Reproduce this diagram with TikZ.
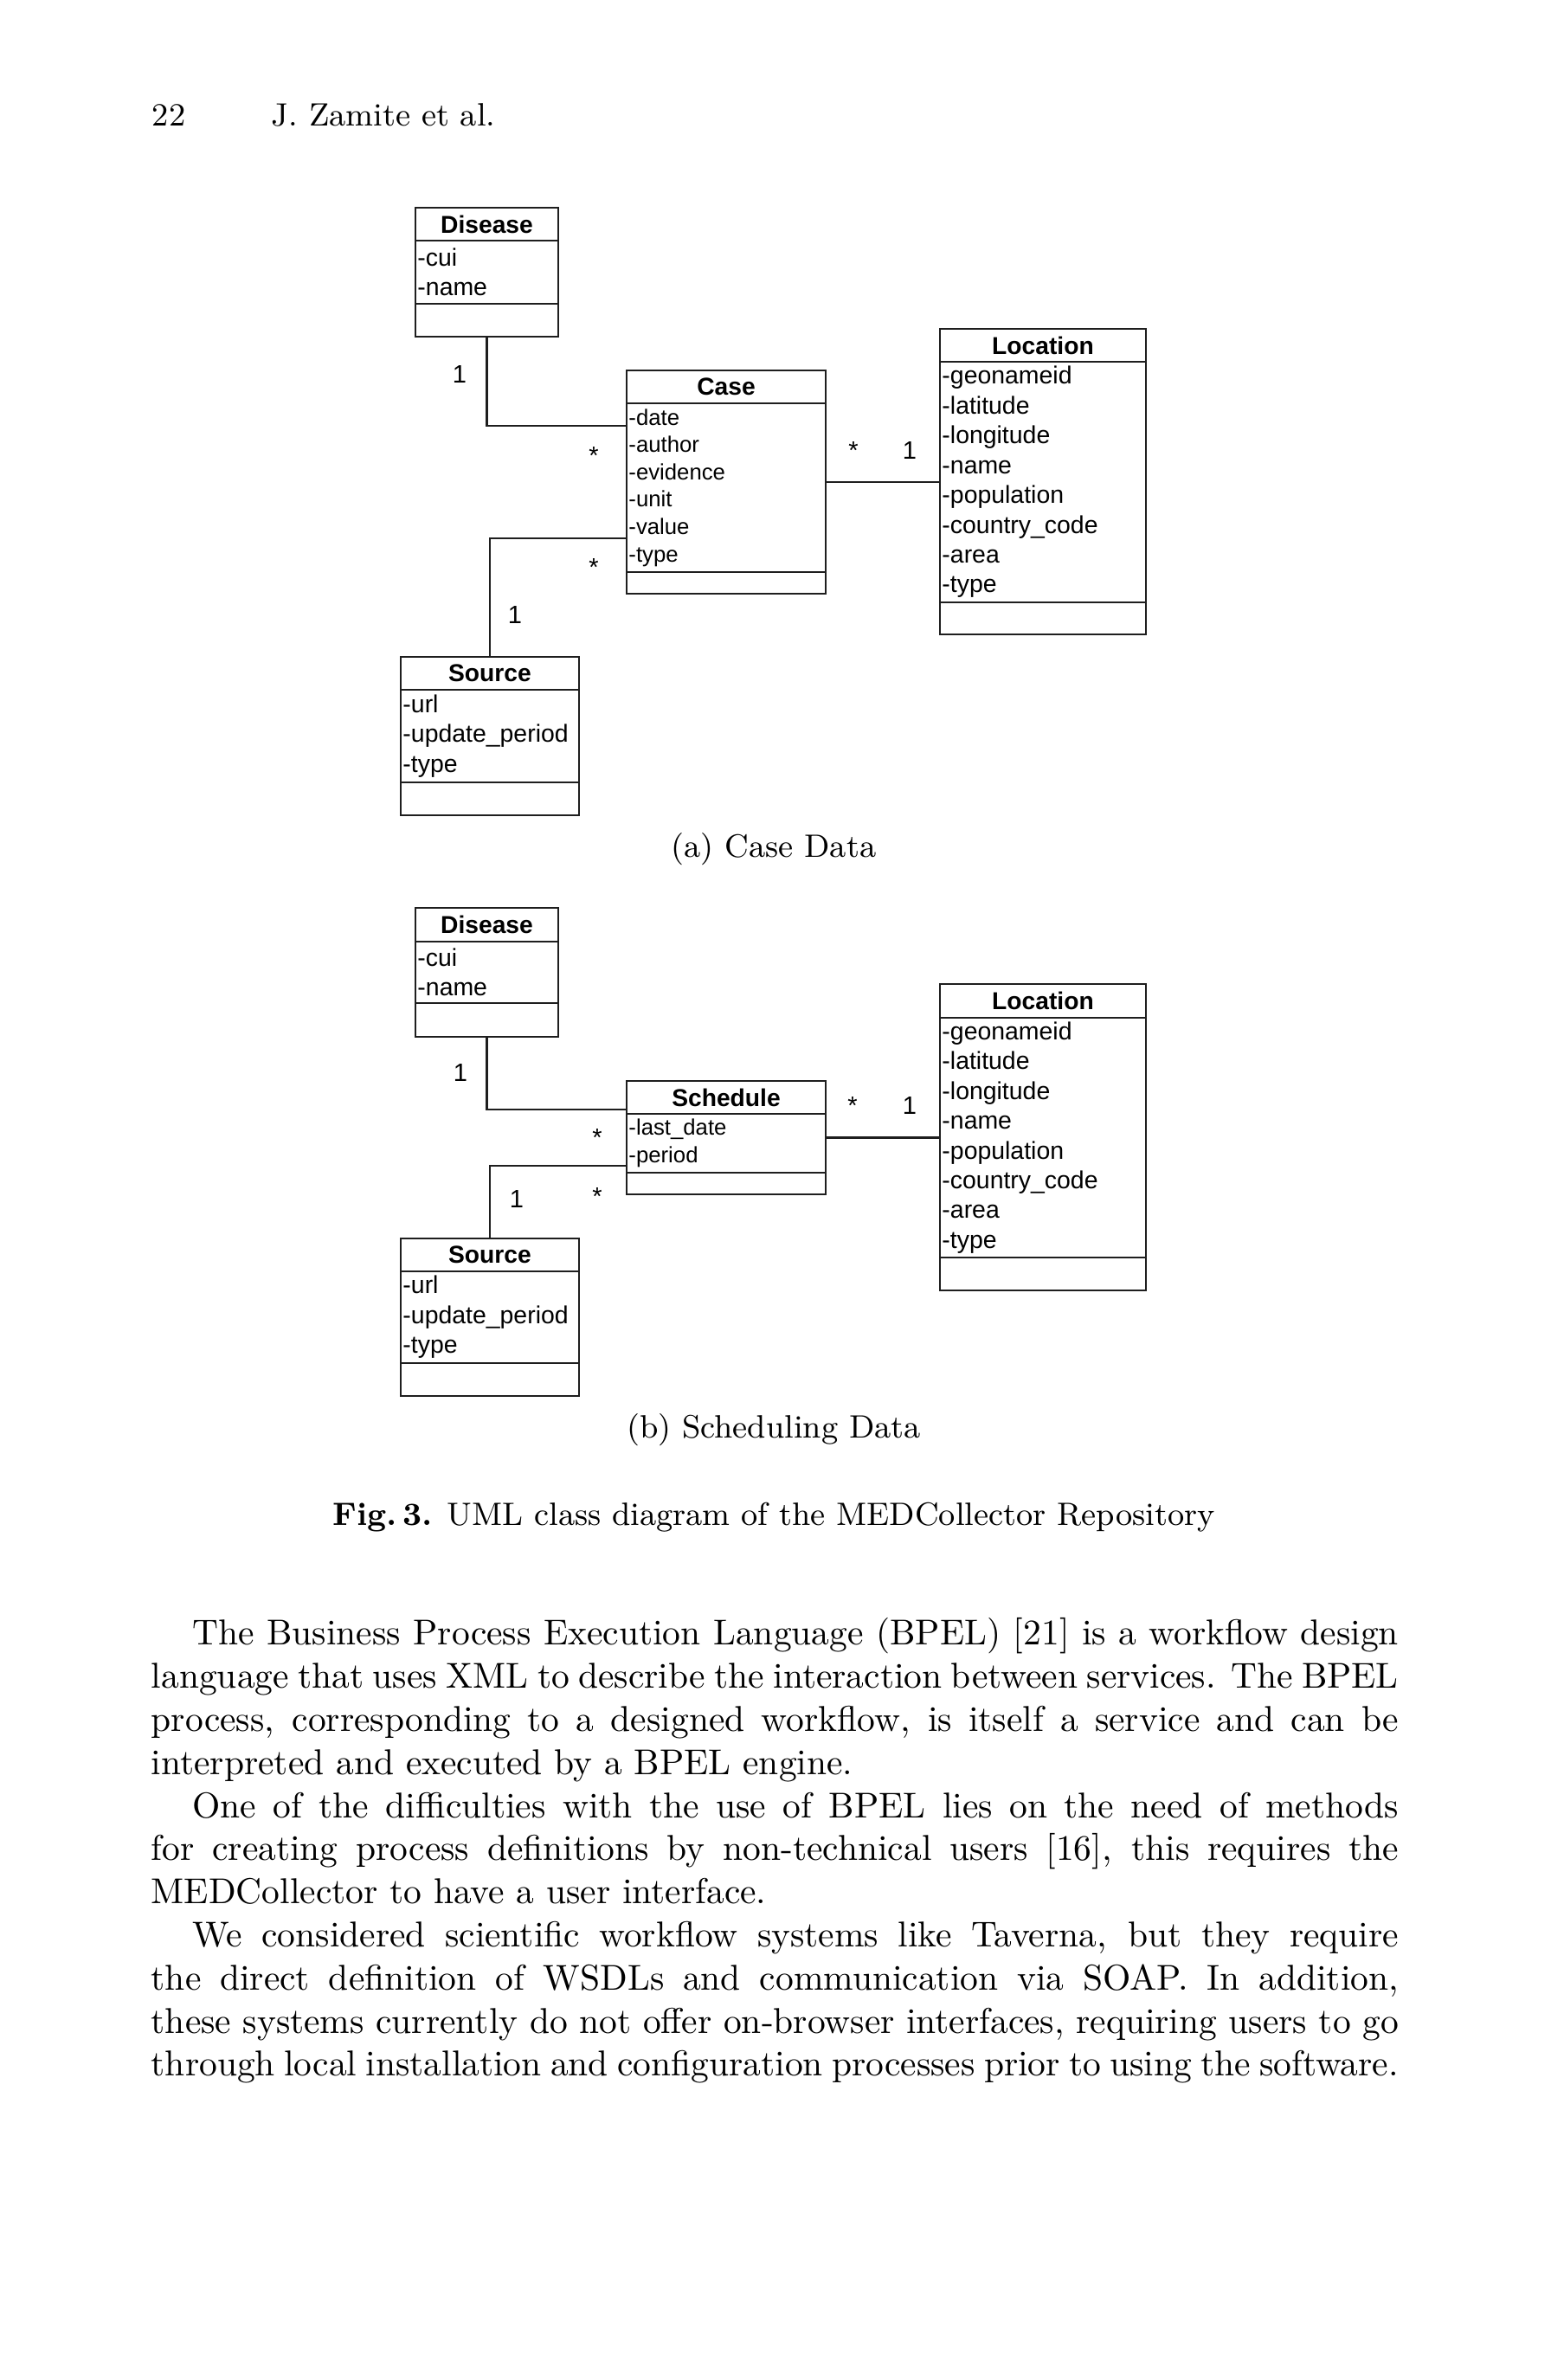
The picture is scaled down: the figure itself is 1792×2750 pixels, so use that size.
\documentclass[tikz,border=0pt]{standalone}
\usepackage{fontspec}
\newfontfamily\umlfont{Liberation Sans}
\usetikzlibrary{positioning}
\newdimen\pxu
\pxu=0.241pt
\definecolor{umlline}{RGB}{30,30,30}

\begin{document}
\begin{tikzpicture}[
x=0.241pt, y=-0.241pt,
classhead/.style 2 args={draw=umlline, line width=0.55pt, inner sep=0pt, outer sep=0pt, minimum width=#1*\pxu, minimum height=#2*\pxu, font=\umlfont\bfseries\fontsize{6.8}{8}\selectfont},
classattr/.style 2 args={draw=umlline, line width=0.55pt, inner xsep=0.6pt, inner ysep=0pt, outer sep=0pt, text width=#1*\pxu-1.2pt, minimum height=#2*\pxu, align=left},
classmeth/.style 2 args={draw=umlline, line width=0.55pt, inner sep=0pt, outer sep=0pt, minimum width=#1*\pxu, minimum height=#2*\pxu},
bigattr/.style={font=\umlfont\fontsize{6.85}{8.3}\selectfont},
smallattr/.style={font=\umlfont\fontsize{6.2}{7.6}\selectfont},
mult/.style={inner sep=0pt, font=\umlfont\fontsize{7}{8}\selectfont},
assoc/.style={draw=umlline, line width=0.55pt},
pagetext/.style={inner sep=0pt, font=\fontsize{9}{11}\selectfont},
bodytext/.style={inner sep=0pt, text width=347.3pt, align=justify, font=\fontsize{10}{12}\selectfont}
]
\fill[white] (0,0) rectangle (1792,2750);
\useasboundingbox (0,0) rectangle (1792,2750);

% running head
\node[pagetext, anchor=base west] (pgno) at (175,145) {22};
\node[pagetext, anchor=base west] (runhead) at (313,145) {J. Zamite et al.};

% (a) case data
\node[classhead={165}{38}, anchor=north west] (dis1-h) at (480,240) {Disease};
\node[classattr={165}{73}, bigattr, below=0pt of dis1-h] (dis1-a) {-cui\\-name};
\node[classmeth={165}{38}, below=0pt of dis1-a] (dis1-m) {};

\node[classhead={230}{38}, anchor=north west] (case-h) at (724,428) {Case};
\node[classattr={230}{195}, smallattr, below=0pt of case-h] (case-a) {-date\\-author\\-evidence\\-unit\\-value\\-type};
\node[classmeth={230}{25}, below=0pt of case-a] (case-m) {};

\node[classhead={238}{38}, anchor=north west] (loc1-h) at (1086,380) {Location};
\node[classattr={238}{278}, bigattr, below=0pt of loc1-h] (loc1-a) {-geonameid\\-latitude\\-longitude\\-name\\-population\\-country\_code\\-area\\-type};
\node[classmeth={238}{37}, below=0pt of loc1-a] (loc1-m) {};

\node[classhead={206}{38}, anchor=north west] (src1-h) at (463,759) {Source};
\node[classattr={206}{107}, bigattr, below=0pt of src1-h] (src1-a) {-url\\-update\_period\\-type};
\node[classmeth={206}{38}, below=0pt of src1-a] (src1-m) {};

\draw[assoc] (dis1-m.south) |- ([yshift=-26*\pxu]case-a.north west);
\draw[assoc] (src1-h.north) |- ([yshift=39*\pxu]case-a.south west);
\draw[assoc] (case-a.east |- loc1-a.west) -- (loc1-a.west);

\node[mult] (m1) at (531,432) {1};
\node[mult] (m2) at (686,526) {*};
\node[mult] (m3) at (686,655) {*};
\node[mult] (m4) at (595,710) {1};
\node[mult] (m5) at (986,520) {*};
\node[mult] (m6) at (1051,520) {1};

\node[pagetext, anchor=base] (capa) at (894,990) {(a) Case Data};

% (b) scheduling data
\node[classhead={165}{39}, anchor=north west] (dis2-h) at (480,1049) {Disease};
\node[classattr={165}{71}, bigattr, below=0pt of dis2-h] (dis2-a) {-cui\\-name};
\node[classmeth={165}{39}, below=0pt of dis2-a] (dis2-m) {};

\node[classhead={230}{38}, anchor=north west] (sch-h) at (724,1249) {Schedule};
\node[classattr={230}{68}, smallattr, below=0pt of sch-h] (sch-a) {-last\_date\\-period};
\node[classmeth={230}{25}, below=0pt of sch-a] (sch-m) {};

\node[classhead={238}{39}, anchor=north west] (loc2-h) at (1086,1137) {Location};
\node[classattr={238}{277}, bigattr, below=0pt of loc2-h] (loc2-a) {-geonameid\\-latitude\\-longitude\\-name\\-population\\-country\_code\\-area\\-type};
\node[classmeth={238}{38}, below=0pt of loc2-a] (loc2-m) {};

\node[classhead={206}{38}, anchor=north west] (src2-h) at (463,1431) {Source};
\node[classattr={206}{106}, bigattr, below=0pt of src2-h] (src2-a) {-url\\-update\_period\\-type};
\node[classmeth={206}{38}, below=0pt of src2-a] (src2-m) {};

\draw[assoc] (dis2-m.south) |- ([yshift=5*\pxu]sch-h.south west);
\draw[assoc] (src2-h.north) |- ([yshift=8*\pxu]sch-a.south west);
\draw[assoc] (sch-a.east |- loc2-a.west) -- (loc2-a.west);

\node[mult] (m7) at (532,1239) {1};
\node[mult] (m8) at (690,1314) {*};
\node[mult] (m9) at (690,1382) {*};
\node[mult] (m10) at (597,1385) {1};
\node[mult] (m11) at (985,1277) {*};
\node[mult] (m12) at (1051,1277) {1};

\node[pagetext, anchor=base] (capb) at (894,1661) {(b) Scheduling Data};
\node[pagetext, anchor=base] (figcap) at (894,1762) {\textbf{Fig.\,3.} UML class diagram of the MEDCollector Repository};

% body text
\node[bodytext, anchor=north west] (body) at (174,1869) {%
\hspace*{11.5pt}The Business Process Execution Language (BPEL) [21] is a workflow design\linebreak
language that uses XML to describe the interaction between services. The BPEL\linebreak
process, corresponding to a designed workflow, is itself a service and can be\linebreak
interpreted and executed by a BPEL engine.\par
\hspace*{11.5pt}One of the difficulties with the use of BPEL lies on the need of methods\linebreak
for creating process definitions by non-technical users [16], this requires the\linebreak
MEDCollector to have a user interface.\par
\hspace*{11.5pt}We considered scientific workflow systems like Taverna, but they require\linebreak
the direct definition of WSDLs and communication via SOAP. In addition,\linebreak
these systems currently do not offer on-browser interfaces, requiring users to go\linebreak
through local installation and configuration processes prior to using the software.};
\end{tikzpicture}
\end{document}
